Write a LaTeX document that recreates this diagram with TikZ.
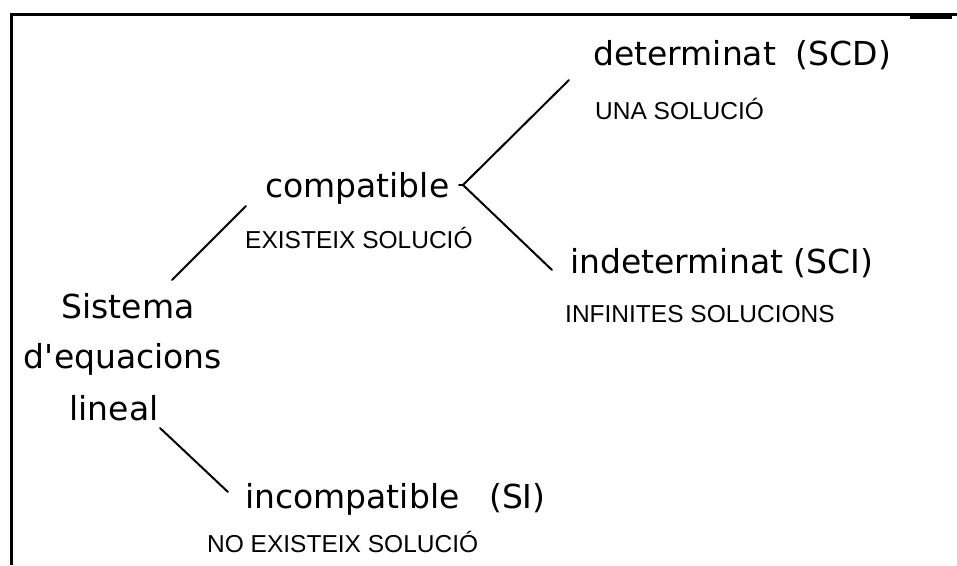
\documentclass[tikz,border=0pt]{standalone}
\usepackage{fontspec}
\setmainfont{DejaVu Sans}
\newfontfamily\capsfont{Liberation Sans}
\begin{document}
\begin{tikzpicture}[x=1pt,y=-1pt,
  term/.style={font=\fontsize{33}{38}\selectfont, inner sep=0pt, anchor=base west},
  centred/.style={font=\fontsize{33}{38}\selectfont, inner sep=0pt, anchor=base},
  note/.style={font=\capsfont\fontsize{24.5}{28}\selectfont, inner sep=0pt, anchor=base west},
  link/.style={line width=2pt, line cap=round, line join=round},
  frame/.style={line width=3pt}]
\useasboundingbox (0,0) rectangle (957,565);

% outer frame: left and top edges
\draw[frame] (11.5,565) -- (11.5,14.5) -- (957,14.5);
\fill (910,13) rectangle (952,18.5);

% root
\node[centred] (sys) at (128,318) {Sistema};
\node[centred] (eq)  at (123,368) {d\textquotesingle equacions};
\node[centred] (lin) at (114,420) {lineal};

% branches
\node[term] (comp) at (265,197) {compatible};
\node[note] (compn) at (245,248) {EXISTEIX SOLUCIÓ};
\node[term] (det) at (593,65) {determinat\hspace{0.6em}(SCD)};
\node[note] (detn) at (595,119) {UNA SOLUCIÓ};
\node[term] (ind) at (570,273) {indeterminat (SCI)};
\node[note] (indn) at (565,322) {INFINITES SOLUCIONS};
\node[term] (inc) at (245,508) {incompatible\hspace{0.9em}(SI)};
\node[note] (incn) at (207,552) {NO EXISTEIX SOLUCIÓ};

% connector end points
\coordinate (p1) at (172,280);
\coordinate (p2) at (246,206);
\coordinate (v)  at (463,185);
\coordinate (vs) at (459,185);
\coordinate (p3) at (569,80);
\coordinate (p4) at (552,270);
\coordinate (p5) at (160,428);
\coordinate (p6) at (228,492);

\draw[link] (p1) -- (p2);
\draw[link] (p3) -- (v) -- (p4);
\draw[link] (vs) -- (v);
\draw[link] (p5) -- (p6);
\end{tikzpicture}
\end{document}
